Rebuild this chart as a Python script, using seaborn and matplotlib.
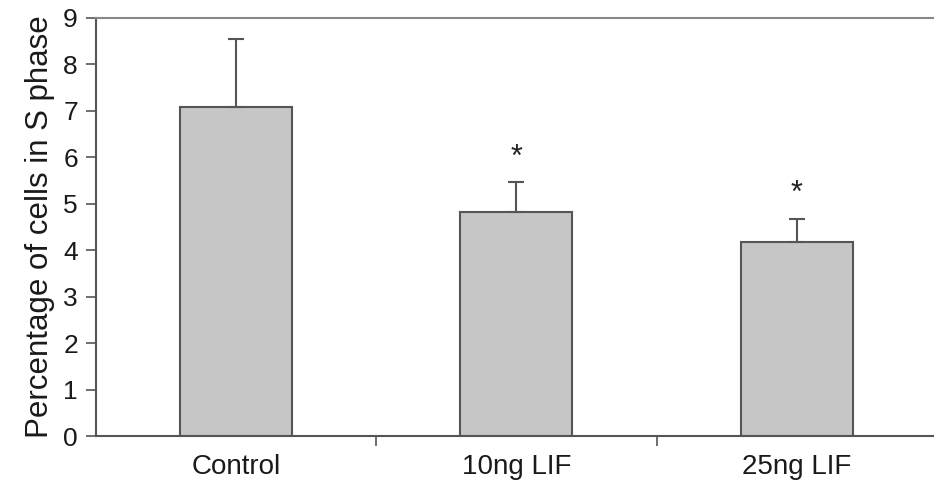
import matplotlib
matplotlib.use("Agg")
import matplotlib.pyplot as plt
import seaborn as sns
import pandas as pd
import numpy as np

categories = ["Control", "10ng LIF", "25ng LIF"]
means = [7.09, 4.83, 4.18]
errors_up = [1.46, 0.64, 0.50]
significant = ["", "*", "*"]

sns.set_style("white")
plt.rcParams['font.family'] = ['Liberation Sans', 'DejaVu Sans']

df = pd.DataFrame({"group": categories, "value": means})

fig = plt.figure(figsize=(9.34, 4.9), dpi=100)
ax = fig.add_axes([0.1028, 0.1102, 0.8972, 0.8531])

sns.barplot(data=df, x="group", y="value", color="#c6c6c6", width=0.40,
            edgecolor="#555555", linewidth=1.5, saturation=1, ax=ax, errorbar=None)

xpos = np.arange(len(categories))
ax.errorbar(xpos, means, yerr=[np.zeros(len(means)), errors_up], fmt="none",
            ecolor="#555555", elinewidth=1.5, capsize=6, capthick=1.5, zorder=3)

for x, m, e, s in zip(xpos, means, errors_up, significant):
    if s:
        ax.text(x, m + e + 0.2, s, ha="center", va="bottom", fontsize=22, color="#222222")

ax.set_xlim(-0.5, 2.49)
ax.set_ylim(0, 9)
ax.set_yticks(range(0, 10))
ax.tick_params(axis="y", labelsize=19, length=7, width=1.2, color="#555555",
               direction="out", left=True, pad=6, labelcolor="#1a1a1a")
ax.set_xticks(xpos)
ax.set_xticklabels(categories)
ax.tick_params(axis="x", which="major", length=0, labelsize=20, pad=13, labelcolor="#1a1a1a")
ax.set_xticks([0.5, 1.5], minor=True)
ax.tick_params(axis="x", which="minor", length=7, width=1.2, color="#555555", direction="out", bottom=True)

ax.set_xlabel("")
ax.set_ylabel("Percentage of cells in S phase", fontsize=22.5, labelpad=6, color="#1a1a1a")

for side in ["left", "bottom"]:
    ax.spines[side].set_color("#555555")
    ax.spines[side].set_linewidth(1.5)
ax.spines["top"].set_color("#888888")
ax.spines["top"].set_linewidth(1.5)
ax.spines["right"].set_visible(False)

fig.savefig("out.png", dpi=100)
